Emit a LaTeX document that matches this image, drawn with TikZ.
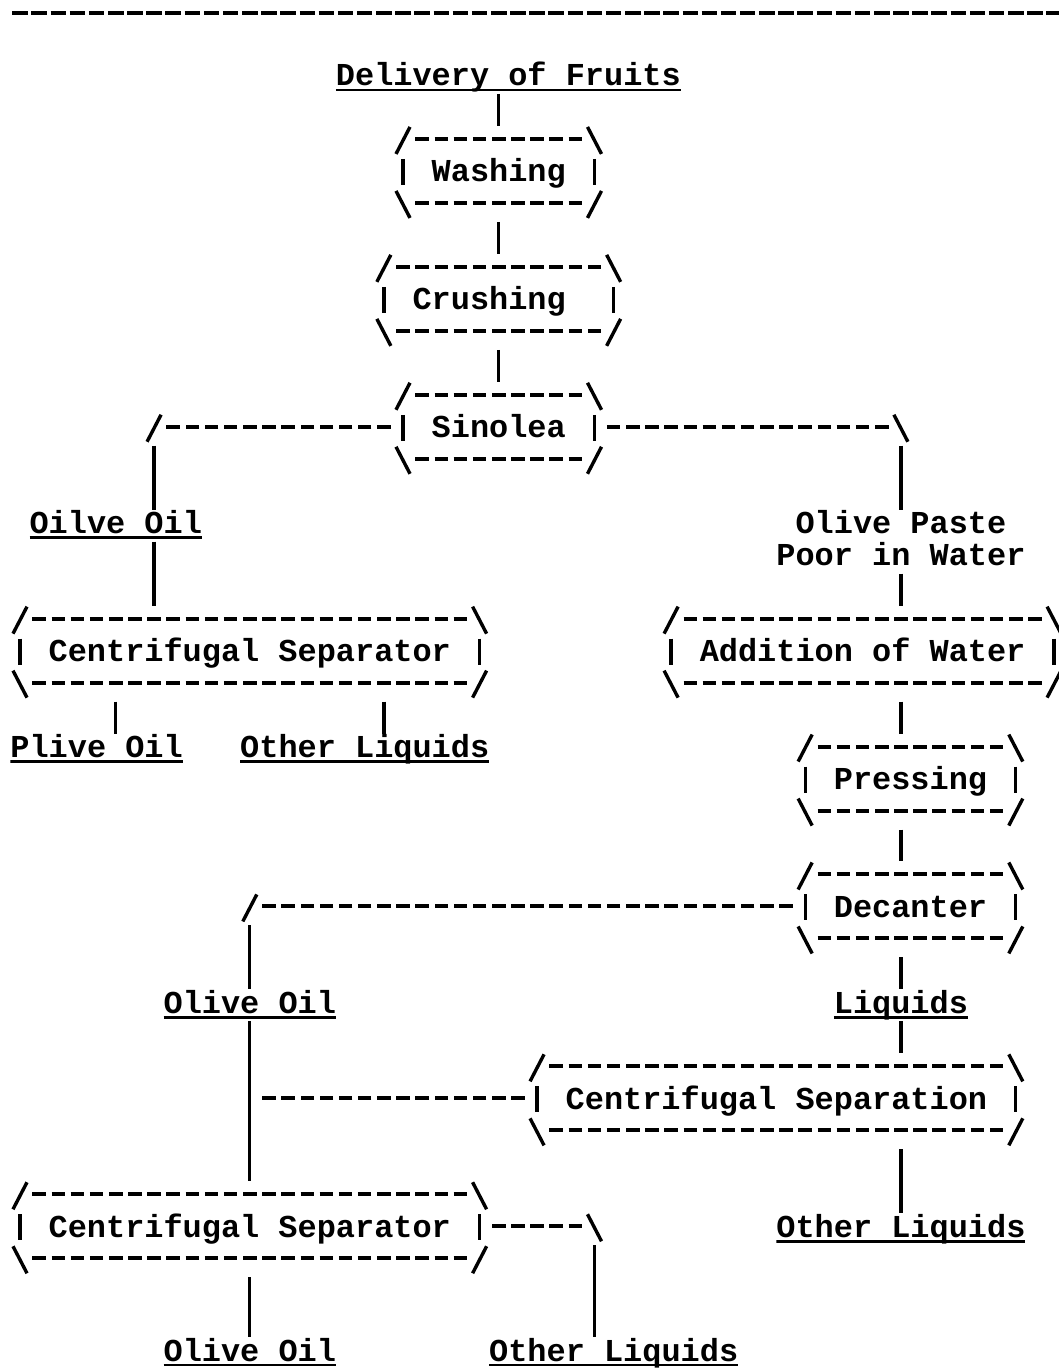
\documentclass[tikz,border=0pt]{standalone}
\usepackage{fontspec}
\newfontfamily\monofam{Liberation Mono}
\newcommand\monob{\monofam\bfseries\fontsize{31.92pt}{32pt}\selectfont}

% typewriter-style flow chart: one text row = 32pt, one character cell = 19.15pt
\tikzset{
  glyph/.style={line width=3.4pt},
  bar/.style={line width=3.3pt},
  dashes/.style={line width=4pt, dash pattern=on 13.5pt off 5.65pt, dash phase=16.325pt},
  rulerow/.style={line width=4.6pt, dash pattern=on 15.5pt off 3.65pt, dash phase=17.325pt},
  lbl/.style={inner sep=0pt, outer sep=0pt, text height=24pt, text depth=8pt,
    font=\monob, anchor=north west},
  ul/.style={lbl, path picture={
      \draw[line width=2.6pt]
        ([yshift=-28pt]path picture bounding box.north west) --
        ([yshift=-28pt]path picture bounding box.north east);}},
  stepbox/.style={inner sep=0pt, outer sep=0pt, text height=56pt, text depth=40pt,
    font=\monob, anchor=north west,
    path picture={
      \path (path picture bounding box.north west) coordinate (pw)
            (path picture bounding box.north east) coordinate (pe);
      % corner strokes  / \  and  \ /
      \draw[glyph] ([shift={(2.575pt,-28pt)}]pw) -- ++(14pt,27pt);
      \draw[glyph] ([shift={(-2.575pt,-28pt)}]pe) -- ++(-14pt,27pt);
      \draw[glyph] ([shift={(2.575pt,-65pt)}]pw) -- ++(14pt,-27pt);
      \draw[glyph] ([shift={(-2.575pt,-65pt)}]pe) -- ++(-14pt,-27pt);
      % side bars
      \draw[bar] ([shift={(9.575pt,-33pt)}]pw) -- ++(0pt,-26pt);
      \draw[bar] ([shift={(-9.575pt,-33pt)}]pe) -- ++(0pt,-26pt);
      % dashed top and bottom
      \draw[dashes] ([shift={(19.15pt,-13pt)}]pw) -- ([shift={(-19.15pt,-13pt)}]pe);
      \draw[dashes] ([shift={(19.15pt,-77pt)}]pw) -- ([shift={(-19.15pt,-77pt)}]pe);
    }},
}
% corner strokes of the branch lines
\newcommand\fwdglyph[1]{\draw[glyph] ([shift={(-7pt,-15pt)}]#1) -- ([shift={(7pt,12pt)}]#1);}
\newcommand\backglyph[1]{\draw[glyph] ([shift={(-7pt,12pt)}]#1) -- ([shift={(7pt,-15pt)}]#1);}

\begin{document}
\begin{tikzpicture}[x=1pt,y=-1pt,
  declare function={cx(\c)=20+19.15*\c; by(\r)=19+31.98*\r;}]
\fill[white] (0,0) rectangle (1059,1369);
\useasboundingbox (0,0) rectangle (1059,1369);

% rule across the top
\draw[rulerow] ({cx(0)-9.575},{by(0)-6}) -- (1075,{by(0)-6});

% labels and process steps
\node[ul, minimum width=18*19.15pt] (deliv) at ({cx(17)-9.575},{by(2)-21}) {Delivery of Fruits};
\node[stepbox, minimum width=11*19.15pt] (washing) at ({cx(20)-9.575},{by(4)-21}) {Washing};
\node[stepbox, minimum width=13*19.15pt] (crushing) at ({cx(19)-9.575},{by(8)-21}) {Crushing\hphantom{x}};
\node[stepbox, minimum width=11*19.15pt] (sinolea) at ({cx(20)-9.575},{by(12)-21}) {Sinolea};
\node[ul, minimum width=9*19.15pt] (oilve) at ({cx(1)-9.575},{by(16)-21}) {Oilve Oil};
\node[lbl, minimum width=11*19.15pt] (paste1) at ({cx(41)-9.575},{by(16)-21}) {Olive Paste};
\node[lbl, minimum width=13*19.15pt] (paste2) at ({cx(40)-9.575},{by(17)-21}) {Poor in Water};
\node[stepbox, minimum width=25*19.15pt] (centrif1) at ({cx(0)-9.575},{by(19)-21}) {Centrifugal Separator};
\node[stepbox, minimum width=21*19.15pt] (addwater) at ({cx(34)-9.575},{by(19)-21}) {Addition of Water};
\node[ul, minimum width=9*19.15pt] (plive) at ({cx(0)-9.575},{by(23)-21}) {Plive Oil};
\node[ul, minimum width=13*19.15pt] (other1) at ({cx(12)-9.575},{by(23)-21}) {Other Liquids};
\node[stepbox, minimum width=12*19.15pt] (pressing) at ({cx(41)-9.575},{by(23)-21}) {Pressing};
\node[stepbox, minimum width=12*19.15pt] (decanter) at ({cx(41)-9.575},{by(27)-21}) {Decanter};
\node[ul, minimum width=9*19.15pt] (olive2) at ({cx(8)-9.575},{by(31)-21}) {Olive Oil};
\node[ul, minimum width=7*19.15pt] (liquids) at ({cx(43)-9.575},{by(31)-21}) {Liquids};
\node[stepbox, minimum width=26*19.15pt] (centsep) at ({cx(27)-9.575},{by(33)-21}) {Centrifugal Separation};
\node[stepbox, minimum width=25*19.15pt] (centrif2) at ({cx(0)-9.575},{by(37)-21}) {Centrifugal Separator};
\node[ul, minimum width=13*19.15pt] (other2) at ({cx(40)-9.575},{by(38)-21}) {Other Liquids};
% last row sits right on the lower edge
\node[ul, minimum width=9*19.15pt] (olive3) at ({cx(8)-9.575},{by(42)-25}) {Olive Oil};
\node[ul, minimum width=13*19.15pt] (other3) at ({cx(25)-9.575},{by(42)-25}) {Other Liquids};

% branch corners and columns
\coordinate (jL) at ({cx(7)},{by(13)-8});
\coordinate (jR) at ({cx(46)},{by(13)-8});
\coordinate (jD) at ({cx(12)},{by(28)-8});
\coordinate (jM) at ({cx(12)},{by(34)-8});
\coordinate (jB) at ({cx(30)},{by(38)-8});
\coordinate (col5) at ({cx(5)},0);
\coordinate (col19) at ({cx(19)},0);

% main line
\draw[bar] (deliv.south -| washing.north) -- (washing.north);
\draw[bar] (washing.south) -- (crushing.north);
\draw[bar] (crushing.south) -- (sinolea.north);

% Sinolea, left branch
\draw[dashes] (jL -| sinolea.west) -- ([xshift=9.575pt]jL);
\fwdglyph{jL}
\draw[bar] ([yshift=-19pt]jL) -- (jL |- oilve.north);
\draw[bar] (oilve.south -| jL) -- (centrif1.north -| jL);
\draw[bar] (centrif1.south -| col5) -- (plive.north -| col5);
\draw[bar] (centrif1.south -| col19) -- (other1.north -| col19);

% Sinolea, right branch
\draw[dashes] (jR -| sinolea.east) -- ([xshift=-9.575pt]jR);
\backglyph{jR}
\draw[bar] ([yshift=-19pt]jR) -- (jR |- paste1.north);
\draw[bar] (paste2.south) -- (paste2.south |- addwater.north);
\draw[bar] (addwater.south -| jR) -- (pressing.north -| jR);
\draw[bar] (pressing.south -| jR) -- (decanter.north -| jR);
\draw[bar] (decanter.south -| jR) -- (liquids.north -| jR);
\draw[bar] (liquids.south) -- (liquids.south |- centsep.north);
\draw[bar] (centsep.south -| jR) -- (other2.north -| jR);

% Decanter, oil branch
\draw[dashes] (jD -| decanter.west) -- ([xshift=9.575pt]jD);
\fwdglyph{jD}
\draw[bar] ([yshift=-19pt]jD) -- (jD |- olive2.north);
\draw[bar] (olive2.south) -- (olive2.south |- centrif2.north);
\draw[dashes] (jM -| centsep.west) -- ([xshift=9.575pt]jM);

% final separator
\draw[dashes] (jB -| centrif2.east) -- ([xshift=-9.575pt]jB);
\backglyph{jB}
\draw[bar] ([yshift=-19pt]jB) -- (jB |- other3.north);
\draw[bar] (centrif2.south -| olive3.north) -- (olive3.north);
\end{tikzpicture}
\end{document}
